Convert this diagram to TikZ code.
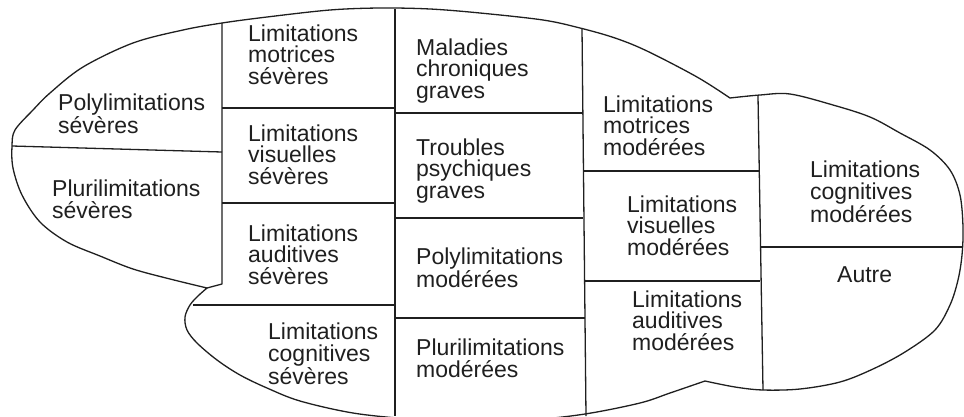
\documentclass[tikz,border=0pt]{standalone}
\usepackage{fontspec}
\setmainfont{Liberation Sans}
\begin{document}
\begin{tikzpicture}[x=1pt,y=-1pt,
  edge/.style={line width=1.3pt, draw=black!88, line join=round},
  lbl/.style={anchor=base west, inner sep=0pt, align=left,
    font=\fontsize{23}{21.5}\selectfont, text=black!88}]
\useasboundingbox (0,0) rectangle (964,416);
\clip (0,0) rectangle (964,416);
% outline
\draw[edge]
  plot[smooth, tension=0.55] coordinates {(207,288) (170,279) (133,269) (100,256) (67,242) (40,222) (22,195) (13,168) (12,146) (15,130) (33,110) (50,93) (83,67) (133,43) (183,30) (222,23) (267,17) (330,10) (380,8) (430,9) (480,13) (543,20) (580,28) (615,38) (647,51) (697,77) (730,98)}
  -- plot[smooth, tension=0.55] coordinates {(730,98) (760,95) (790,94) (833,105) (870,117) (900,133) (930,150) (950,170) (960,195) (963,227) (962,255) (958,280) (950,305) (935,330) (905,352) (873,369) (840,382) (800,389) (763,390) (735,387) (705,381)}
  -- plot[smooth, tension=0.55] coordinates {(705,381) (670,393) (640,403) (585,414) (530,420) (470,422) (410,419) (353,413) (300,401) (267,388) (240,375) (217,360) (197,343) (187,330) (185,317) (190,305) (198,296) (207,288)}
  -- cycle;
% inner lines
\coordinate (cA) at (207,288);
\coordinate (v1b) at (222,284);
\coordinate (v1t) at (222,23);
\draw[edge] (cA) -- (v1b) -- (v1t);
\draw[edge] (12,146) -- (222,152);
\draw[edge] (222,108) -- (395,108);
\draw[edge] (222,203) -- (395,203);
\draw[edge] (193,305) -- (395,305);
\draw[edge] (395,9) -- (395,416);
\draw[edge] (395,113) -- (582,113);
\draw[edge] (395,218) -- (583,218);
\draw[edge] (395,318) -- (585,318);
\draw[edge] (582,28) -- (586,416);
\draw[edge] (583,171) -- (759,171);
\draw[edge] (584,281) -- (760,281);
\draw[edge] (758,96) -- (763,390);
\draw[edge] (761,247) -- (963,247);
% labels (anchor = baseline of last line)
\node[lbl] (polys) at (58,133) {Polylimitations\\sévères};
\node[lbl] (pluris) at (52,218) {Plurilimitations\\sévères};
\node[lbl] (mots) at (248,84) {Limitations\\motrices\\sévères};
\node[lbl] (viss) at (248,184) {Limitations\\visuelles\\sévères};
\node[lbl] (auds) at (248,284) {Limitations\\auditives\\sévères};
\node[lbl] (cogs) at (268,384) {Limitations\\cognitives\\sévères};
\node[lbl] (mal) at (416,98) {Maladies\\chroniques\\graves};
\node[lbl] (trb) at (416,198) {Troubles\\psychiques\\graves};
\node[lbl] (polym) at (416,287) {Polylimitations\\modérées};
\node[lbl] (plurim) at (416,377) {Plurilimitations\\modérées};
\node[lbl] (motm) at (603,155) {Limitations\\motrices\\modérées};
\node[lbl] (vism) at (627,255) {Limitations\\visuelles\\modérées};
\node[lbl] (audm) at (632,350) {Limitations\\auditives\\modérées};
\node[lbl] (cogm) at (810,222) {Limitations\\cognitives\\modérées};
\node[lbl] (aut) at (837,282) {Autre};
\end{tikzpicture}
\end{document}
